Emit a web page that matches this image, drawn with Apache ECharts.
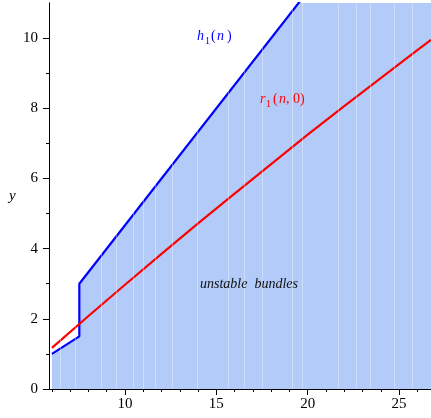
<!DOCTYPE html>
<html>
<head>
<meta charset="utf-8">
<script src="https://cdn.jsdelivr.net/npm/echarts@6/dist/echarts.min.js"></script>
<style>html,body{margin:0;padding:0;background:#fff}#c{width:431px;height:418px}</style>
</head>
<body>
<div id="c"></div>
<script>
// h1(n): upper boundary (blue)
const h1N = [6, 7.5, 7.5, 26.75];
const h1Y = [1.0, 1.5, 3.0, 15.83];
// r1(n,0) (red)
const r1N = [6, 8, 10, 12, 14, 16, 18, 20, 22, 24, 26, 26.75];
const r1Y = [1.17, 2.08, 2.97, 3.85, 4.72, 5.57, 6.41, 7.25, 8.06, 8.86, 9.66, 9.95];
// axis ticks
const xMajor = [10, 15, 20, 25];
const xMinor = [6,7,8,9,11,12,13,14,16,17,18,19,21,22,23,24,26];
const yMajor = [0, 2, 4, 6, 8, 10];
const yMinor = [1, 3, 5, 7, 9];
// faint seams in the filled region
const seams = [6.48, 7.26, 8.69, 9.51, 10.44, 10.99, 11.64, 12.57, 13.94, 15.64, 16.51, 17.5, 19.14, 19.69, 21.66, 22.64, 23.41, 24.72, 25.71];

const X_MIN = 5.84, X_MAX = 26.75, Y_MIN = 0, Y_MAX = 11;

const chart = echarts.init(document.getElementById('c'), null, {renderer: 'canvas'});
const zip = (a, b) => a.map((v, i) => [v, b[i]]);

const labelStyle = {fontFamily: 'Liberation Serif', fontSize: 15, fontWeight: 'normal', color: '#000'};

const axisCommon = {
  type: 'value', splitLine: {show: false},
  axisLine: {show: true, onZero: false, lineStyle: {color: '#000', width: 1}}
};

chart.setOption({
  animation: false,
  textStyle: {fontFamily: 'Liberation Serif'},
  grid: {left: 49, right: 0, top: 3, bottom: 29, containLabel: false},
  xAxis: [
    Object.assign({}, axisCommon, {
      min: X_MIN, max: X_MAX,
      axisTick: {show: true, length: 6, inside: false, customValues: xMajor, lineStyle: {color: '#000'}},
      axisLabel: Object.assign({show: true, customValues: xMajor, margin: 8}, labelStyle)
    }),
    Object.assign({}, axisCommon, {
      min: X_MIN, max: X_MAX, position: 'bottom',
      axisTick: {show: true, length: 3, customValues: xMinor, lineStyle: {color: '#000'}},
      axisLabel: {show: false}
    })
  ],
  yAxis: [
    Object.assign({}, axisCommon, {
      min: Y_MIN, max: Y_MAX,
      axisTick: {show: true, length: 6, customValues: yMajor, lineStyle: {color: '#000'}},
      axisLabel: Object.assign({show: true, customValues: yMajor, margin: 11}, labelStyle)
    }),
    Object.assign({}, axisCommon, {
      min: Y_MIN, max: Y_MAX, position: 'left', offset: 0,
      axisTick: {show: true, length: 3, customValues: yMinor, lineStyle: {color: '#000'}},
      axisLabel: {show: false}
    })
  ],
  series: [
    {
      type: 'line', data: zip(h1N, h1Y), symbol: 'none', clip: true, z: 1,
      lineStyle: {width: 0},
      areaStyle: {color: '#b2cbf8', opacity: 1, origin: 'start'},
      markLine: {
        silent: true, symbol: 'none', label: {show: false},
        lineStyle: {color: 'rgba(255,255,255,0.35)', width: 1, type: 'solid'},
        data: seams.map(v => ({xAxis: v}))
      }
    },
    {
      type: 'line', data: zip(h1N, h1Y), symbol: 'none', clip: true, z: 3,
      lineStyle: {color: '#0000ff', width: 2.2}
    },
    {
      type: 'line', data: zip(r1N, r1Y), symbol: 'none', clip: true, z: 4,
      lineStyle: {color: '#ff0000', width: 2.2}
    }
  ],
  graphic: [
    {type: 'text', z: 100, left: 9, top: 189, style: {text: 'y', font: 'italic 15px "Liberation Serif"', fill: '#000'}},
    // h1(n)
    {type: 'text', z: 100, x: 197, y: 29, style: {text: 'h', font: 'italic 14px "Liberation Serif"', fill: '#0000ff'}},
    {type: 'text', z: 100, x: 205, y: 36, style: {text: '1', font: '10px "Liberation Serif"', fill: '#0000ff'}},
    {type: 'text', z: 100, x: 211, y: 29, style: {text: '(', font: '14px "Liberation Serif"', fill: '#0000ff'}},
    {type: 'text', z: 100, x: 217, y: 29, style: {text: 'n', font: 'italic 14px "Liberation Serif"', fill: '#0000ff'}},
    {type: 'text', z: 100, x: 227, y: 29, style: {text: ')', font: '14px "Liberation Serif"', fill: '#0000ff'}},
    // r1(n, 0)
    {type: 'text', z: 100, x: 260, y: 92, style: {text: 'r', font: 'italic 14px "Liberation Serif"', fill: '#ff0000'}},
    {type: 'text', z: 100, x: 266, y: 99, style: {text: '1', font: '10px "Liberation Serif"', fill: '#ff0000'}},
    {type: 'text', z: 100, x: 273, y: 92, style: {text: '(', font: '14px "Liberation Serif"', fill: '#ff0000'}},
    {type: 'text', z: 100, x: 279, y: 92, style: {text: 'n,', font: 'italic 14px "Liberation Serif"', fill: '#ff0000'}},
    {type: 'text', z: 100, x: 293, y: 92, style: {text: '0)', font: '14px "Liberation Serif"', fill: '#ff0000'}},
    // region label
    {type: 'text', z: 100, x: 200, y: 277, style: {text: 'unstable  bundles', font: 'italic 14px "Liberation Serif"', fill: '#111'}}
  ]
});
</script>
</body>
</html>
